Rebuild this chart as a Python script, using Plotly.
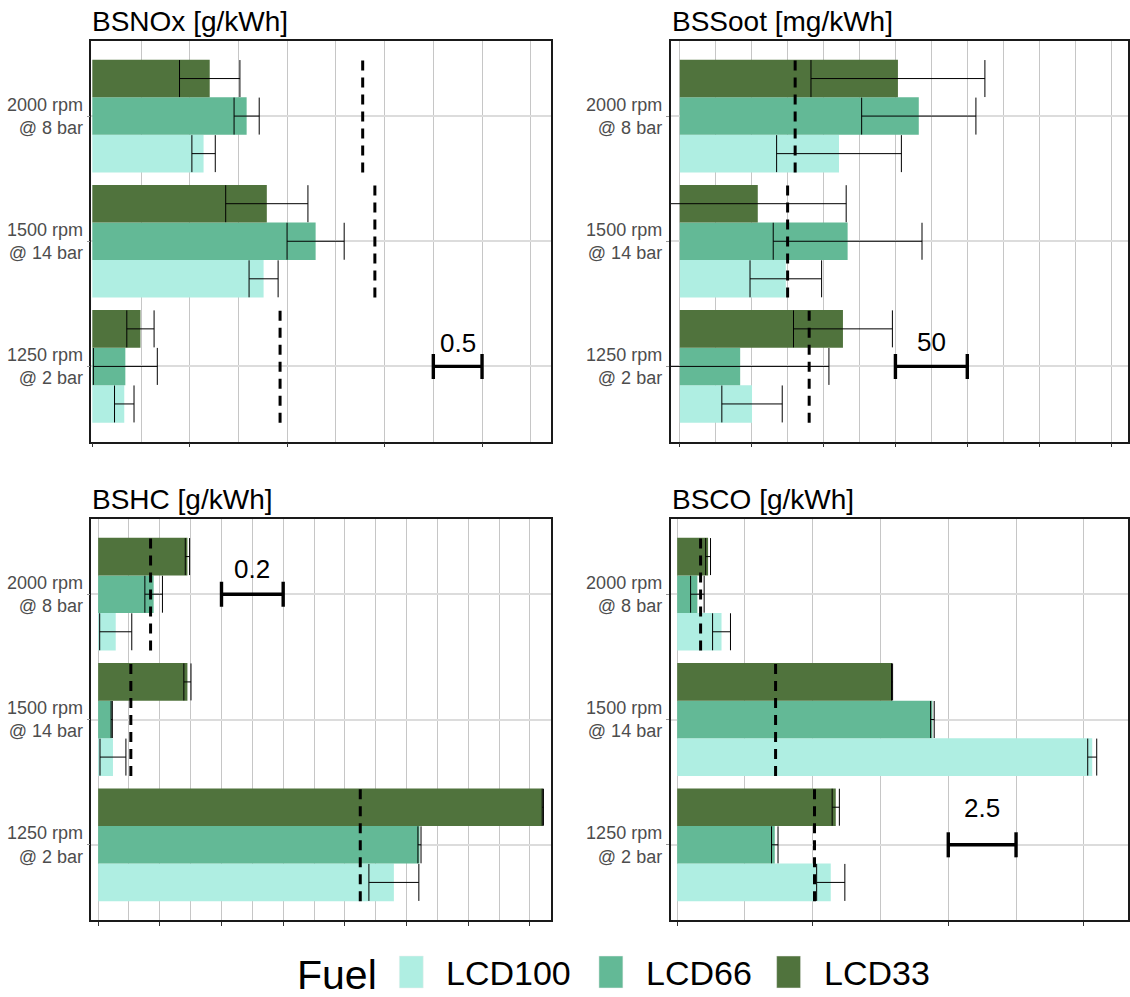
import plotly.graph_objects as go

# ---------------- data ----------------
conditions = ["1250 rpm<br>@ 2 bar", "1500 rpm<br>@ 14 bar", "2000 rpm<br>@ 8 bar"]
fuels = ["LCD100", "LCD66", "LCD33"]

# BSNOx [g/kWh]  (order: 1250, 1500, 2000)
nox_lcd100 = [0.328, 1.758, 1.142]
nox_lcd66 = [0.339, 2.292, 1.584]
nox_lcd33 = [0.494, 1.791, 1.205]
nox_err_lcd100 = [0.10, 0.149, 0.12]
nox_err_lcd66 = [0.328, 0.293, 0.129]
nox_err_lcd33 = [0.14, 0.422, 0.31]
nox_ref = [1.927, 2.90, 2.775]

# BSSoot [mg/kWh]
soot_lcd100 = [50.25, 73.75, 110.75]
soot_lcd66 = [42.0, 116.75, 166.25]
soot_lcd33 = [113.5, 54.25, 151.75]
soot_err_lcd100 = [21.0, 24.9, 43.4]
soot_err_lcd66 = [61.75, 51.75, 39.75]
soot_err_lcd33 = [34.4, 61.5, 60.5]
soot_ref = [90.0, 75.0, 80.25]

# BSHC [g/kWh]
hc_lcd100 = [0.959, 0.048, 0.057]
hc_lcd66 = [1.042, 0.044, 0.180]
hc_lcd33 = [1.442, 0.2895, 0.2895]
hc_err_lcd100 = [0.081, 0.042, 0.052]
hc_err_lcd66 = [0.005, 0.002, 0.0285]
hc_err_lcd33 = [0.002, 0.0116, 0.007]
hc_ref = [0.850, 0.106, 0.170]

# BSCO [g/kWh]
co_lcd100 = [5.665, 15.31, 1.636]
co_lcd66 = [3.60, 9.415, 0.745]
co_lcd33 = [5.85, 7.926, 1.14]
co_err_lcd100 = [0.52, 0.166, 0.33]
co_err_lcd66 = [0.12, 0.066, 0.25]
co_err_lcd33 = [0.133, 0.02, 0.09]
co_ref = [5.066, 3.63, 0.864]

titles = ["BSNOx [g/kWh]", "BSSoot [mg/kWh]", "BSHC [g/kWh]", "BSCO [g/kWh]"]
scale_lengths = [0.5, 50, 0.2, 2.5]
scale_labels = ["0.5", "50", "0.2", "2.5"]

# ---------------- style / layout config ----------------
fuel_colors = ["#AFEEE2", "#63B996", "#50733D"]
FONT = "Liberation Sans, Arial, Helvetica, sans-serif"
W, H = 1130, 997

panel_values = [
    [nox_lcd100, nox_lcd66, nox_lcd33],
    [soot_lcd100, soot_lcd66, soot_lcd33],
    [hc_lcd100, hc_lcd66, hc_lcd33],
    [co_lcd100, co_lcd66, co_lcd33],
]
panel_errors = [
    [nox_err_lcd100, nox_err_lcd66, nox_err_lcd33],
    [soot_err_lcd100, soot_err_lcd66, soot_err_lcd33],
    [hc_err_lcd100, hc_err_lcd66, hc_err_lcd33],
    [co_err_lcd100, co_err_lcd66, co_err_lcd33],
]
panel_refs = [nox_ref, soot_ref, hc_ref, co_ref]

panel_cfg = [
    dict(px=(91.5, 552), py=(41, 441.5), xr=[-0.01, 4.708], major=1.0, minor=0.5,
         sc_start=3.5, sc_cond=0, sc_dy=0.19, title_y=21.5),
    dict(px=(671.7, 1130), py=(41, 441.5), xr=[-6.46, 311.8], major=50, minor=25,
         sc_start=150, sc_cond=0, sc_dy=0.196, title_y=21.5),
    dict(px=(91.5, 552), py=(519, 920), xr=[-0.0221, 1.4686], major=0.2, minor=0.1,
         sc_start=0.4, sc_cond=2, sc_dy=0.2, title_y=499.5),
    dict(px=(671.7, 1130), py=(519, 920), xr=[-0.246, 16.63], major=5, minor=2.5,
         sc_start=10, sc_cond=0, sc_dy=0.29, title_y=499.5),
]

BAR_W = 0.3

fig = go.Figure()
shapes = []
annotations = []
layout_axes = {}

for k in range(4):
    cfg = panel_cfg[k]
    xa = "x" if k == 0 else f"x{k+1}"
    ya = "y" if k == 0 else f"y{k+1}"
    xname = "xaxis" if k == 0 else f"xaxis{k+1}"
    yname = "yaxis" if k == 0 else f"yaxis{k+1}"

    for i, fuel in enumerate(fuels):
        ypos = [c + (i - 1) * BAR_W for c in range(len(conditions))]
        fig.add_trace(go.Bar(
            orientation="h", x=panel_values[k][i], y=ypos, width=BAR_W,
            name=fuel, showlegend=False,
            marker=dict(color=fuel_colors[i], line=dict(width=0)),
            error_x=dict(type="data", array=panel_errors[k][i], color="black",
                         thickness=1, width=18.5),
            xaxis=xa, yaxis=ya,
        ))

    xs, ys = [], []
    for c, r in enumerate(panel_refs[k]):
        xs += [r, r, None]
        ys += [c - 0.45, c + 0.45, None]
    fig.add_trace(go.Scatter(
        x=xs, y=ys, mode="lines", showlegend=False, hoverinfo="skip",
        line=dict(color="black", width=3, dash="10px,7px"),
        xaxis=xa, yaxis=ya,
    ))

    # scale bar
    s0 = cfg["sc_start"]
    s1 = s0 + scale_lengths[k]
    yc = cfg["sc_cond"]
    lw = 3.4
    shapes.append(dict(type="line", xref=xa, yref=ya, x0=s0, x1=s1, y0=yc, y1=yc,
                       line=dict(color="black", width=lw)))
    for sx in (s0, s1):
        shapes.append(dict(type="line", xref=xa, yref=ya, x0=sx, x1=sx,
                           y0=yc - 0.1, y1=yc + 0.1, line=dict(color="black", width=lw)))
    annotations.append(dict(xref=xa, yref=ya, x=(s0 + s1) / 2, y=yc + cfg["sc_dy"],
                            text=scale_labels[k], showarrow=False, xanchor="center",
                            yanchor="middle", font=dict(size=26, color="black", family=FONT)))

    # title
    annotations.append(dict(xref="paper", yref="paper", x=(cfg["px"][0] - 1) / W,
                            y=1 - cfg["title_y"] / H, text=titles[k], showarrow=False,
                            xanchor="left", yanchor="middle",
                            font=dict(size=28, color="black", family=FONT)))

    layout_axes[xname] = dict(
        domain=[cfg["px"][0] / W, cfg["px"][1] / W], range=cfg["xr"], anchor=ya,
        showgrid=True, gridcolor="#c6c6c6", gridwidth=1,
        tick0=0, dtick=cfg["major"], ticks="outside", ticklen=4, tickwidth=1,
        tickcolor="#333333", showticklabels=False,
        showline=True, linecolor="#1a1a1a", linewidth=1.5, mirror=True,
        zeroline=False,
        minor=dict(tick0=0, dtick=cfg["minor"], showgrid=True, gridcolor="#c6c6c6",
                   gridwidth=1, ticks=""),
    )
    layout_axes[yname] = dict(
        domain=[1 - cfg["py"][1] / H, 1 - cfg["py"][0] / H], range=[-0.6, 2.6],
        anchor=xa, tickvals=list(range(len(conditions))), ticktext=conditions,
        tickfont=dict(size=18, color="#4D4D4D", family=FONT),
        ticks="outside", ticklen=3, tickcolor="#999999",
        showgrid=True, gridcolor="#dcdcdc", gridwidth=1.5,
        showline=True, linecolor="#1a1a1a", linewidth=1.5, mirror=True,
        zeroline=False,
    )

# ---------------- manual legend ----------------
annotations.append(dict(xref="paper", yref="paper", x=296 / W, y=1 - 975 / H,
                        text="Fuel", showarrow=False, xanchor="left", yanchor="middle",
                        font=dict(size=41, color="black", family=FONT)))
swatch_x = [400, 600, 778]
label_x = [445, 645, 823]
for i, fuel in enumerate(fuels):
    shapes.append(dict(type="rect", xref="paper", yref="paper",
                       x0=swatch_x[i] / W, x1=(swatch_x[i] + 24) / W,
                       y0=1 - 988 / H, y1=1 - 956 / H,
                       fillcolor=fuel_colors[i], line=dict(color="#eeeeee", width=0.5)))
    annotations.append(dict(xref="paper", yref="paper", x=label_x[i] / W, y=1 - 973 / H,
                            text=fuel, showarrow=False, xanchor="left", yanchor="middle",
                            font=dict(size=34, color="black", family=FONT)))

fig.update_layout(
    width=W, height=H,
    margin=dict(l=0, r=0, t=0, b=0),
    paper_bgcolor="white", plot_bgcolor="white",
    barmode="overlay", showlegend=False,
    font=dict(family=FONT),
    shapes=shapes, annotations=annotations,
    **layout_axes,
)

fig.write_html("out.html")
